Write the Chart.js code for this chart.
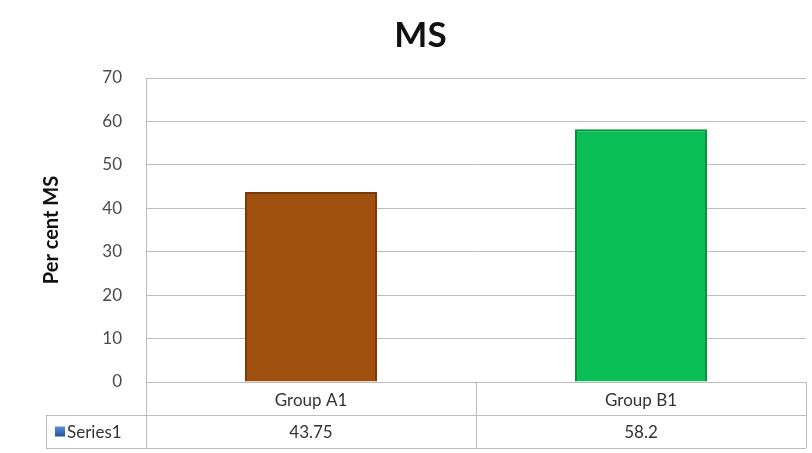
<!DOCTYPE html>
<html>
<head>
<meta charset="utf-8">
<script src="https://cdn.jsdelivr.net/npm/chart.js@4.4.1/dist/chart.umd.min.js"></script>
<style>
  html, body { margin: 0; padding: 0; background: #ffffff; }
  #wrap { width: 812px; height: 453px; }
</style>
</head>
<body>
<div id="wrap"><canvas id="msChart" width="812" height="453"></canvas></div>
<script>
// Chart data
const categories = ['Group A1', 'Group B1'];
const seriesName = 'Series1';
const seriesValues = [43.75, 58.2];
const valueLabels = ['43.75', '58.2'];
const barColors = ['#a0500f', '#0abf55'];
const barEdges = ['#7a3a0a', '#07913f'];

const FONT = 'Lato, "Open Sans", sans-serif';
const LINE = '#bdbdbd';

// Draws the data table under the plot (header row uses the x tick labels)
const dataTablePlugin = {
    id: 'dataTable',
    afterDraw(chart) {
        const ctx = chart.ctx;
        const x = chart.scales.x;
        const area = chart.chartArea;
        const top = area.bottom;
        const mid = top + 33;
        const bottom = top + 66;
        const keyLeft = 46;

        ctx.save();
        ctx.strokeStyle = LINE;
        ctx.lineWidth = 1;
        ctx.beginPath();
        // horizontal lines
        ctx.moveTo(area.left, top + 0.5); ctx.lineTo(area.right, top + 0.5);
        ctx.moveTo(keyLeft, mid + 0.5); ctx.lineTo(area.right, mid + 0.5);
        ctx.moveTo(keyLeft, bottom + 0.5); ctx.lineTo(area.right, bottom + 0.5);
        // vertical lines
        ctx.moveTo(keyLeft + 0.5, mid); ctx.lineTo(keyLeft + 0.5, bottom);
        ctx.moveTo(area.left + 0.5, top); ctx.lineTo(area.left + 0.5, bottom);
        const step = (area.right - area.left) / categories.length;
        for (let i = 1; i <= categories.length; i++) {
            const xx = Math.round(area.left + step * i) + 0.5;
            ctx.moveTo(xx, top); ctx.lineTo(xx, bottom);
        }
        ctx.stroke();

        // legend key
        const ky = (mid + bottom) / 2;
        const g = ctx.createLinearGradient(0, ky - 5, 0, ky + 5);
        g.addColorStop(0, '#5b8fd6');
        g.addColorStop(1, '#23529c');
        ctx.fillStyle = g;
        ctx.fillRect(keyLeft + 9, ky - 5, 10, 10);

        ctx.fillStyle = '#333333';
        ctx.font = '17px ' + FONT;
        ctx.textBaseline = 'middle';
        ctx.textAlign = 'left';
        ctx.fillText(seriesName, keyLeft + 21, ky + 1);

        ctx.textAlign = 'center';
        valueLabels.forEach((v, i) => {
            ctx.fillText(v, x.getPixelForValue(i), ky + 1);
        });
        ctx.restore();
    }
};

new Chart(document.getElementById('msChart').getContext('2d'), {
    type: 'bar',
    data: {
        labels: categories,
        datasets: [{
            label: seriesName,
            data: seriesValues,
            backgroundColor: barColors,
            borderColor: barEdges,
            borderWidth: 2,
            borderSkipped: 'bottom',
            categoryPercentage: 0.8,
            barPercentage: 0.5
        }]
    },
    options: {
        responsive: false,
        animation: false,
        layout: {
            padding: { left: 35, right: 6, top: 6, bottom: 4 }
        },
        scales: {
            y: {
                min: 0,
                max: 70,
                ticks: {
                    stepSize: 10,
                    padding: 24,
                    color: '#4a4a4a',
                    font: { family: FONT, size: 17 }
                },
                grid: {
                    color: LINE,
                    lineWidth: 1,
                    drawTicks: false
                },
                border: { color: LINE },
                title: {
                    display: true,
                    text: 'Per cent MS',
                    color: '#111111',
                    font: { family: FONT, size: 20, weight: 'bold' },
                    padding: { top: 5, bottom: 0 }
                },
                afterFit: function(axis) { axis.width = 111; }
            },
            x: {
                ticks: {
                    padding: 8,
                    color: '#333333',
                    font: { family: FONT, size: 17 }
                },
                grid: { display: false, drawTicks: false },
                border: { display: false },
                afterFit: function(axis) { axis.height = 67; }
            }
        },
        plugins: {
            legend: { display: false },
            tooltip: { enabled: false },
            title: {
                display: true,
                text: 'MS',
                color: '#111111',
                font: { family: FONT, size: 35, weight: 'bold' },
                padding: { top: 9, bottom: 21 }
            }
        }
    },
    plugins: [dataTablePlugin]
});
</script>
</body>
</html>
